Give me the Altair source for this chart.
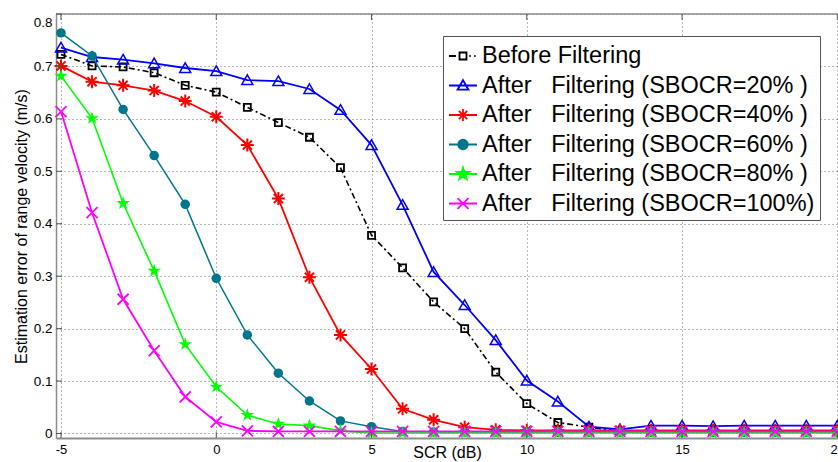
import altair as alt
import pandas as pd

# ---------------- data ----------------
scr = [-5, -4, -3, -2, -1, 0, 1, 2, 3, 4, 5, 6, 7, 8, 9, 10, 11, 12, 13, 14, 15, 16, 17, 18, 19, 20]

before = [0.723, 0.701, 0.699, 0.688, 0.664, 0.651, 0.622, 0.593, 0.565, 0.507, 0.378, 0.316, 0.251,
          0.200, 0.117, 0.057, 0.021, 0.012, 0.004, 0.004, 0.004, 0.004, 0.004, 0.004, 0.004, 0.004]
sbocr20 = [0.736, 0.718, 0.713, 0.706, 0.697, 0.691, 0.674, 0.672, 0.657, 0.617, 0.550, 0.436, 0.308,
           0.245, 0.178, 0.101, 0.061, 0.013, 0.008, 0.015, 0.015, 0.014, 0.015, 0.015, 0.015, 0.015]
sbocr40 = [0.701, 0.671, 0.664, 0.654, 0.634, 0.604, 0.550, 0.448, 0.298, 0.188, 0.123, 0.047, 0.026,
           0.012, 0.007, 0.006, 0.006, 0.006, 0.006, 0.006, 0.006, 0.006, 0.006, 0.006, 0.006, 0.006]
sbocr60 = [0.764, 0.720, 0.618, 0.530, 0.437, 0.296, 0.188, 0.115, 0.062, 0.024, 0.013, 0.004, 0.003,
           0.003, 0.003, 0.003, 0.003, 0.003, 0.003, 0.003, 0.003, 0.003, 0.003, 0.003, 0.003, 0.003]
sbocr80 = [0.682, 0.601, 0.439, 0.310, 0.170, 0.089, 0.035, 0.018, 0.015, 0.005, 0.001, 0.001, 0.001,
           0.001, 0.001, 0.001, 0.001, 0.001, 0.001, 0.001, 0.001, 0.001, 0.001, 0.001, 0.001, 0.001]
sbocr100 = [0.614, 0.421, 0.256, 0.158, 0.070, 0.022, 0.005, 0.004, 0.004, 0.004, 0.004, 0.004, 0.004,
            0.004, 0.004, 0.004, 0.004, 0.004, 0.004, 0.004, 0.004, 0.004, 0.004, 0.004, 0.004, 0.004]

NB = "\u00a0"
labels = [
    "Before Filtering",
    NB + "After" + NB * 3 + "Filtering (SBOCR=20%" + NB + ")",
    NB + "After" + NB * 3 + "Filtering (SBOCR=40%" + NB + ")",
    NB + "After" + NB * 3 + "Filtering (SBOCR=60%" + NB + ")",
    NB + "After" + NB * 3 + "Filtering (SBOCR=80%" + NB + ")",
    NB + "After" + NB * 3 + "Filtering (SBOCR=100%)",
]
series_values = [before, sbocr20, sbocr40, sbocr60, sbocr80, sbocr100]

x_ticks = [-5, 0, 5, 10, 15, 20]
y_ticks = [0, 0.1, 0.2, 0.3, 0.4, 0.5, 0.6, 0.7, 0.8]

rows = []
for k, vals in enumerate(series_values):
    for xv, yv in zip(scr, vals):
        rows.append({"x": xv, "v": yv, "k": k, "series": labels[k]})
df = pd.DataFrame(rows)

# ---------------- styles ----------------
F = "Liberation Sans"
colors = ["#000000", "#0000ff", "#ff0000", "#00768c", "#00ff00", "#ff00ff"]

TRI = "M0,-0.95L1,0.8L-1,0.8Z"
AST = "M-1,0L1,0M0,-1L0,1M-0.7,-0.7L0.7,0.7M-0.7,0.7L0.7,-0.7"
PENT = ("M0,-1L0.225,-0.309L0.951,-0.309L0.363,0.118L0.588,0.809L0,0.382L-0.588,0.809"
        "L-0.363,0.118L-0.951,-0.309L-0.225,-0.309Z")
XSH = "M-1,-1L1,1M-1,1L1,-1"
SQ = "M-1,-1L1,-1L1,1L-1,1Z"
CIRC = "circle"

markers = [
    dict(shape=SQ, size=49, filled=False, sw=1.8),
    dict(shape=TRI, size=121, filled=False, sw=1.5),
    dict(shape=AST, size=169, filled=False, sw=2),
    dict(shape=CIRC, size=90, filled=True, sw=1),
    dict(shape=PENT, size=200, filled=True, sw=1),
    dict(shape=XSH, size=121, filled=False, sw=1.8),
]
line_widths = [1.6, 1.8, 1.8, 1.5, 1.6, 1.8]

# legend symbols (units: +-1 = +-14 px)
leg_shapes = [
    "M-1,0L-0.5,0M-0.25,-0.25L0.25,-0.25L0.25,0.25L-0.25,0.25ZM0.45,0L0.55,0M0.8,0L0.9,0",
    "M-1,0L1,0M0,-0.38L0.39,0.3L-0.39,0.3Z",
    "M-1,0L1,0M-0.43,0L0.43,0M0,-0.43L0,0.43M-0.3,-0.3L0.3,0.3M-0.3,0.3L0.3,-0.3",
    "M-1,0L1,0M0.34,0A0.34,0.34,0,1,1,-0.34,0A0.34,0.34,0,1,1,0.34,0Z",
    ("M-1,0L1,0M0,-0.46L0.104,-0.142L0.437,-0.142L0.167,0.054L0.27,0.372L0,0.176"
     "L-0.27,0.372L-0.167,0.054L-0.437,-0.142L-0.104,-0.142Z"),
    "M-1,0L1,0M-0.39,-0.39L0.39,0.39M-0.39,0.39L0.39,-0.39",
]
leg_fills = ["transparent", "transparent", "transparent", "#00768c", "#00ff00", "transparent"]

# ---------------- scales / axes ----------------
xs = alt.Scale(domain=[-5.161, 20.022], nice=False, zero=False)
ys = alt.Scale(domain=[-0.0086, 0.8], nice=False, zero=False)

x_axis = alt.Axis(values=x_ticks, grid=True, gridDash=[1, 3], gridColor="#6e6e6e", gridWidth=1,
                  domain=True, domainColor="#8c8c8c", domainWidth=2, ticks=False, tickSize=0,
                  labelPadding=5, labelFont=F, labelFontSize=13, labelColor="black",
                  labelFlush=False, labelOverlap=False, labelExpr="'' + datum.value",
                  title="SCR (dB)", titleFont=F, titleFontSize=16, titleFontWeight="normal",
                  titleColor="black", titleY=19, titleBaseline="alphabetic")
y_axis = alt.Axis(values=y_ticks, grid=True, gridDash=[1, 3], gridColor="#6e6e6e", gridWidth=1,
                  domain=True, domainColor="#8c8c8c", domainWidth=1.5, ticks=False, tickSize=0,
                  labelPadding=4, labelFont=F, labelFontSize=13.5, labelColor="black",
                  labelFlush=False, labelOverlap=False, labelExpr="'' + datum.value",
                  labelOffset={"condition": {"test": "datum.value >= 0.79", "value": 8}, "value": 0},
                  title="Estimation error of range velocity (m/s)", titleFont=F, titleFontSize=16,
                  titleFontWeight="normal", titleColor="black", titleX=-35, titleBaseline="middle")

X = alt.X("x:Q", scale=xs, axis=x_axis)
Y = alt.Y("v:Q", scale=ys, axis=y_axis)

base = alt.Chart(df)
layers = []
for k in range(6):
    sub = base.transform_filter(alt.datum.k == k)
    lkw = dict(color=colors[k], strokeWidth=line_widths[k])
    if k == 0:
        lkw["strokeDash"] = [6, 3, 2, 3]
    layers.append(sub.mark_line(**lkw).encode(x=X, y=Y))
    m = markers[k]
    layers.append(sub.mark_point(shape=m["shape"], size=m["size"], filled=m["filled"],
                                 color=colors[k], strokeWidth=m["sw"], opacity=1).encode(x=X, y=Y))

# frame top border and inward ticks
dummy = alt.Chart(pd.DataFrame({"a": [0]}))
top_border = dummy.mark_rule(color="#8c8c8c", strokeWidth=1.5).encode(
    y=alt.YDatum(0.8, type="quantitative", scale=ys, axis=y_axis))
xt = pd.DataFrame({"x": x_ticks})
yt = pd.DataFrame({"v": y_ticks})
tick_bot = alt.Chart(xt).mark_rule(color="#555555", strokeWidth=1).encode(
    x=X, y=alt.value(424), y2=alt.value(418))
tick_top = alt.Chart(xt).mark_rule(color="#555555", strokeWidth=1).encode(
    x=X, y=alt.value(0), y2=alt.value(6))
tick_left = alt.Chart(yt).mark_rule(color="#555555", strokeWidth=1).encode(
    y=Y, x=alt.value(0), x2=alt.value(6))

# legend
leg = alt.Legend(orient="none", legendX=387, legendY=22, title=None, direction="vertical",
                 padding=5, strokeColor="#555555", fillColor="white", symbolSize=784,
                 symbolStrokeWidth=1.8, symbolOpacity=1, labelFont=F, labelFontSize=23.5,
                 labelColor="black", labelOffset=4, labelLimit=600, rowPadding=2.5, cornerRadius=0)
legend_layer = base.transform_filter("false").mark_point(opacity=1, strokeWidth=1.8).encode(
    shape=alt.Shape("series:N", scale=alt.Scale(domain=labels, range=leg_shapes), legend=leg),
    fill=alt.Fill("series:N", scale=alt.Scale(domain=labels, range=leg_fills), legend=leg),
    stroke=alt.Stroke("series:N", scale=alt.Scale(domain=labels, range=colors), legend=leg),
)

chart = alt.layer(*layers, top_border, tick_bot, tick_top, tick_left, legend_layer).properties(
    width=782, height=424,
    padding={"left": 56, "top": 14, "right": 0, "bottom": 24},
    autosize=alt.AutoSizeParams(type="none"),
    background="white",
).configure_view(stroke=None)

chart.save("out.html", embed_options={"renderer": "svg", "actions": False})
